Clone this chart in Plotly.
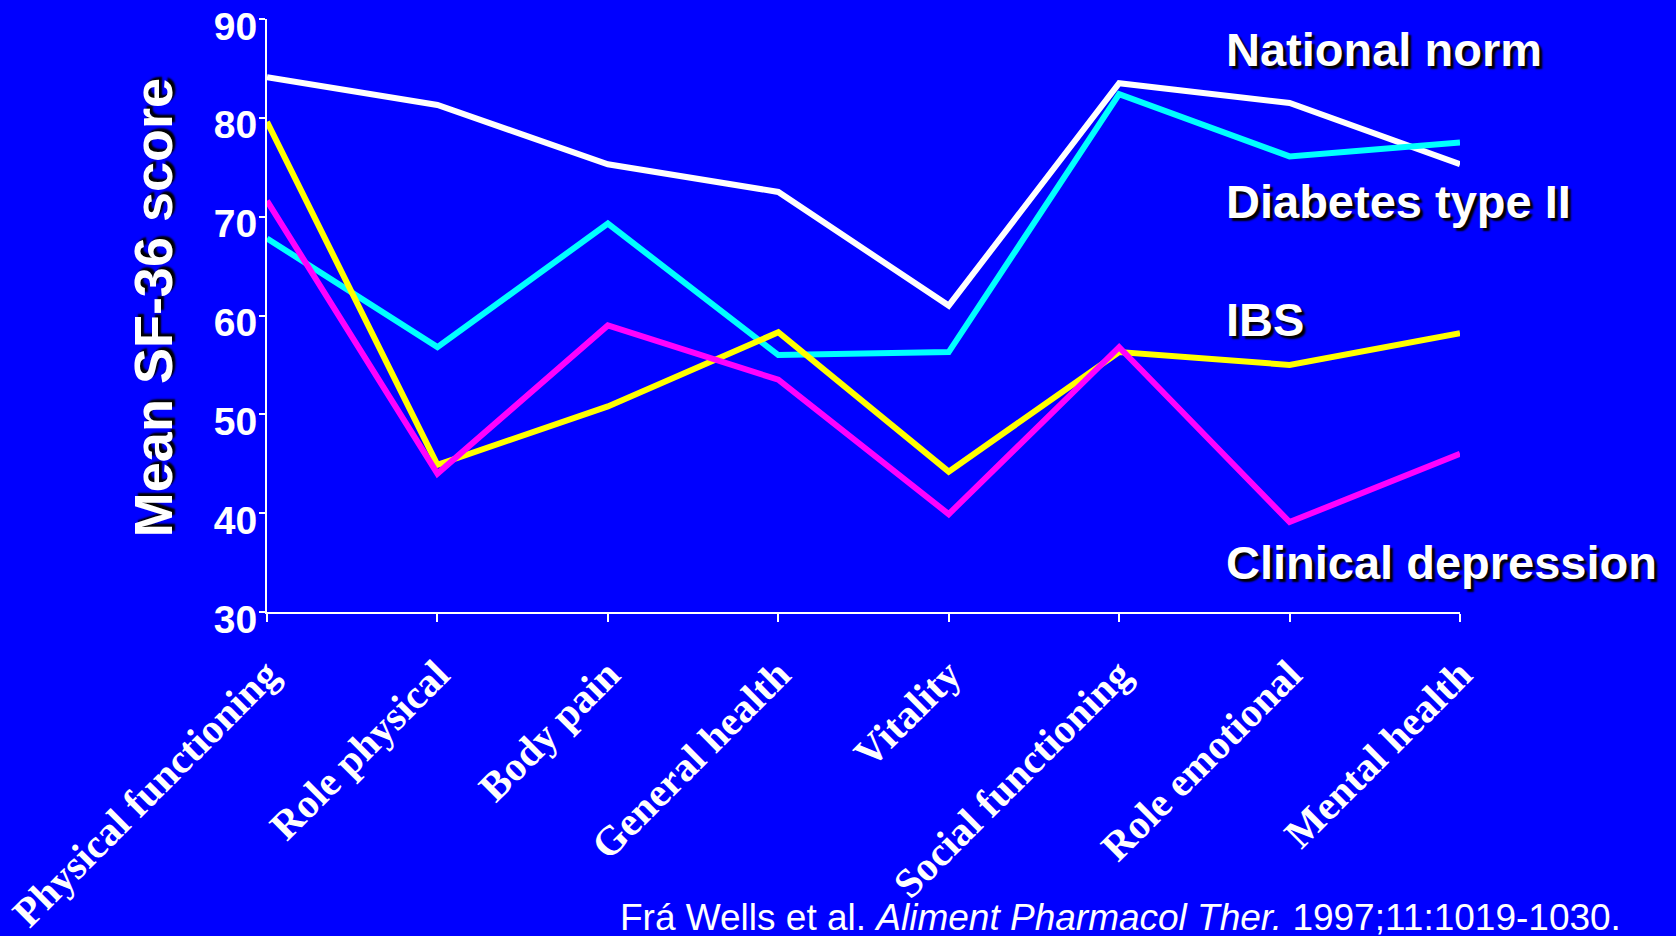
import plotly.graph_objects as go

# SF-36 domains and mean scores by group
domains = ["Physical functioning", "Role physical", "Body pain", "General health",
           "Vitality", "Social functioning", "Role emotional", "Mental health"]
national_norm = [84.1, 81.3, 75.3, 72.5, 61.0, 83.5, 81.5, 75.3]
diabetes_type2 = [67.8, 56.8, 69.3, 56.0, 56.3, 82.4, 76.1, 77.5]
ibs = [79.6, 44.9, 50.8, 58.3, 44.2, 56.3, 55.0, 58.2]
clinical_depression = [71.6, 44.0, 59.0, 53.5, 39.9, 56.8, 39.1, 46.0]

series_names = ["National norm", "Diabetes type II", "IBS", "Clinical depression"]
series_values = [national_norm, diabetes_type2, ibs, clinical_depression]
series_colors = ["#FFFFFF", "#00FFFF", "#FFFF00", "#FF00FF"]

y_ticks = [30, 40, 50, 60, 70, 80, 90]

BG = "#0000FF"
SANS = "Liberation Sans, Arial, sans-serif"
SERIF = "Liberation Serif, Times New Roman, serif"
SHADOW = "3px 3px 2px #000000"

fig = go.Figure()
for name, vals, col in zip(series_names, series_values, series_colors):
    fig.add_trace(go.Scatter(
        x=list(range(len(domains))), y=vals, name=name, mode="lines",
        line=dict(color=col, width=6), showlegend=False,
    ))

# Series labels at the right side of the plot
label_pos = {  # paper coordinates
    "National norm": 0.948,
    "Diabetes type II": 0.693,
    "IBS": 0.494,
    "Clinical depression": 0.083,
}
for name in series_names:
    fig.add_annotation(
        text=name, xref="paper", yref="paper", x=0.802, y=label_pos[name],
        xanchor="left", yanchor="middle", showarrow=False,
        font=dict(family=SANS, size=47, color="white", weight="bold", shadow=SHADOW),
    )

# Vertical axis title
fig.add_annotation(
    text="Mean SF-36 score", xref="paper", yref="paper", x=-0.0956, y=0.514,
    xanchor="center", yanchor="middle", textangle=-90, showarrow=False,
    font=dict(family=SANS, size=54, color="white", weight="bold", shadow=SHADOW),
)

# Citation line
fig.add_annotation(
    text="Frá Wells et al. <i>Aliment Pharmacol Ther.</i> 1997;11:1019-1030.",
    xref="paper", yref="paper", x=(618 - 267) / 1193, y=-(917 - 612) / 593,
    xanchor="left", yanchor="middle", showarrow=False,
    font=dict(family=SANS, size=37, color="white"),
)

fig.update_layout(
    width=1676, height=936,
    paper_bgcolor=BG, plot_bgcolor=BG,
    margin=dict(l=267, r=216, t=19, b=324),
    xaxis=dict(
        range=[0, len(domains) - 1], tickvals=list(range(len(domains))), ticktext=domains,
        tickangle=-45, showgrid=False, zeroline=False, ticklabeloverflow="allow",
        automargin=False, ticklabelstandoff=12,
        showline=True, linecolor="white", linewidth=2,
        ticks="outside", ticklen=8, tickwidth=2, tickcolor="white",
        tickfont=dict(family=SERIF, size=41, color="white", weight="bold"),
    ),
    yaxis=dict(
        range=[30, 90], tickvals=y_ticks, showgrid=False, zeroline=False,
        ticklabeloverflow="allow", automargin=False,
        ticklabelstandoff=-6, ticklabelshift=7,
        showline=True, linecolor="white", linewidth=2,
        ticks="outside", ticklen=6, tickwidth=2, tickcolor="white",
        tickfont=dict(family=SANS, size=39, color="white", weight="bold"),
    ),
)

fig.write_html("out.html")
